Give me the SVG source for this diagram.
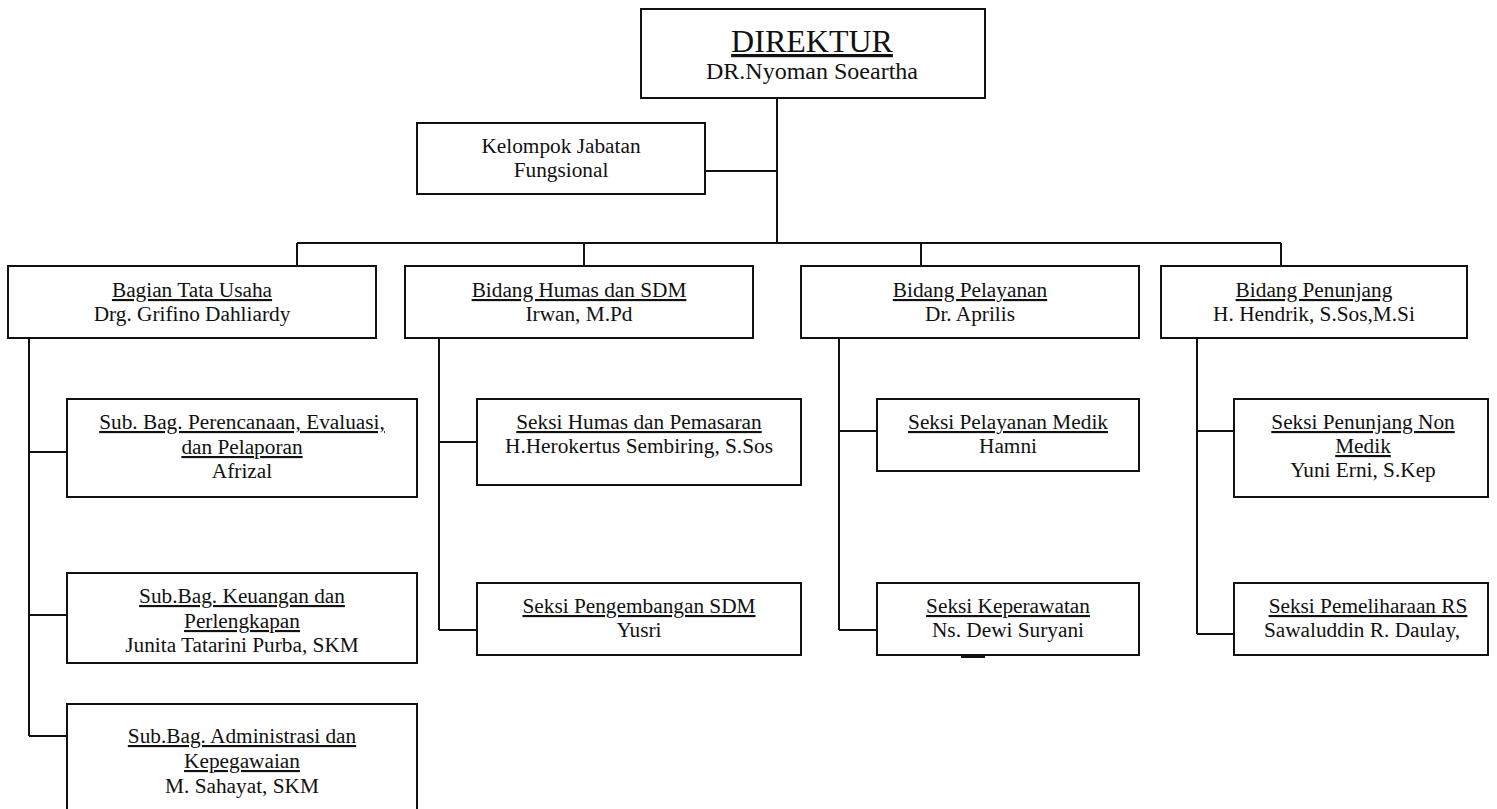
<svg xmlns="http://www.w3.org/2000/svg" width="1497" height="809" viewBox="0 0 1497 809">
<style>
.box{fill:#fff;stroke:#111;stroke-width:2}
.ln{fill:none;stroke:#111;stroke-width:2}
text{font-family:"Liberation Serif","Times New Roman",serif;font-size:21.3px;fill:#111;text-anchor:middle}
.u{text-decoration:underline}
</style>
<rect width="1497" height="809" fill="#fff"/>
<g id="connectors">
<path class="ln" d="M777 98V243M705 171H777M297 243H1281M297 243V266M584 243V266M921 243V266M1281 243V266"/>
<path class="ln" d="M29 338V736M29 452H67M29 615H67M29 736H67"/>
<path class="ln" d="M439 338V630M439 442H477M439 630H477"/>
<path class="ln" d="M839 338V630M839 431H877M839 630H877"/>
<path class="ln" d="M1197 338V634M1197 431H1234M1197 634H1234"/>
</g>
<g id="direktur">
<rect class="box" x="641" y="9" width="344" height="89"/>
<text class="u" x="812" y="52" style="font-size:32px">DIREKTUR</text>
<text x="812" y="79" style="font-size:24px">DR.Nyoman Soeartha</text>
</g>
<g id="kelompok">
<rect class="box" x="417" y="123" width="288" height="71"/>
<text x="561" y="153">Kelompok Jabatan</text>
<text x="561" y="177">Fungsional</text>
</g>
<g id="bagian-tu">
<rect class="box" x="8" y="266" width="368" height="72"/>
<text class="u" x="192" y="297">Bagian Tata Usaha</text>
<text x="192" y="321">Drg. Grifino Dahliardy</text>
</g>
<g id="bidang-humas">
<rect class="box" x="405" y="266" width="348" height="72"/>
<text class="u" x="579" y="297">Bidang Humas dan SDM</text>
<text x="579" y="321">Irwan, M.Pd</text>
</g>
<g id="bidang-pelayanan">
<rect class="box" x="801" y="266" width="338" height="72"/>
<text class="u" x="970" y="297">Bidang Pelayanan</text>
<text x="970" y="321">Dr. Aprilis</text>
</g>
<g id="bidang-penunjang">
<rect class="box" x="1161" y="266" width="306" height="72"/>
<text class="u" x="1314" y="297">Bidang Penunjang</text>
<text x="1314" y="321">H. Hendrik, S.Sos,M.Si</text>
</g>
<g id="subbag-perencanaan">
<rect class="box" x="67" y="399" width="350" height="98"/>
<text class="u" x="242" y="429">Sub. Bag. Perencanaan, Evaluasi,</text>
<text class="u" x="242" y="454">dan Pelaporan</text>
<text x="242" y="478">Afrizal</text>
</g>
<g id="subbag-keuangan">
<rect class="box" x="67" y="573" width="350" height="90"/>
<text class="u" x="242" y="603">Sub.Bag. Keuangan dan</text>
<text class="u" x="242" y="628">Perlengkapan</text>
<text x="242" y="652">Junita Tatarini Purba, SKM</text>
</g>
<g id="subbag-administrasi">
<rect class="box" x="67" y="704" width="350" height="120"/>
<text class="u" x="242" y="743">Sub.Bag. Administrasi dan</text>
<text class="u" x="242" y="768">Kepegawaian</text>
<text x="242" y="793">M. Sahayat, SKM</text>
</g>
<g id="seksi-humas">
<rect class="box" x="477" y="399" width="324" height="86"/>
<text class="u" x="639" y="429">Seksi Humas dan Pemasaran</text>
<text x="639" y="453">H.Herokertus Sembiring, S.Sos</text>
</g>
<g id="seksi-pengembangan">
<rect class="box" x="477" y="583" width="324" height="72"/>
<text class="u" x="639" y="613">Seksi Pengembangan SDM</text>
<text x="639" y="637">Yusri</text>
</g>
<g id="seksi-medik">
<rect class="box" x="877" y="399" width="262" height="72"/>
<text class="u" x="1008" y="429">Seksi Pelayanan Medik</text>
<text x="1008" y="453">Hamni</text>
</g>
<g id="seksi-keperawatan">
<rect class="box" x="877" y="583" width="262" height="72"/>
<text class="u" x="1008" y="613">Seksi Keperawatan</text>
<text x="1008" y="637">Ns. Dewi Suryani</text>
<path class="ln" d="M961 656.5H985" style="stroke-width:3"/>
</g>
<g id="seksi-nonmedik">
<rect class="box" x="1234" y="399" width="254" height="98"/>
<text class="u" x="1363" y="429">Seksi Penunjang Non</text>
<text class="u" x="1363" y="453">Medik</text>
<text x="1363" y="477">Yuni Erni, S.Kep</text>
</g>
<g id="seksi-pemeliharaan">
<rect class="box" x="1234" y="583" width="254" height="72"/>
<text class="u" x="1368" y="613">Seksi Pemeliharaan RS</text>
<text x="1362" y="637">Sawaluddin R. Daulay,</text>
</g>
</svg>
